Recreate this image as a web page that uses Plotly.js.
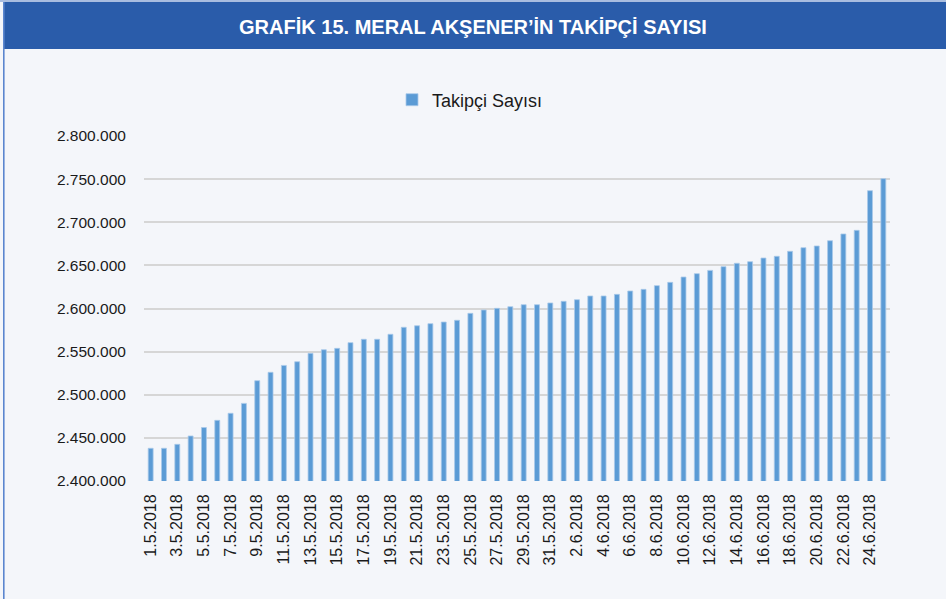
<!DOCTYPE html>
<html>
<head>
<meta charset="utf-8">
<script src="https://cdn.plot.ly/plotly-3.0.1.min.js"></script>
<style>
html,body{margin:0;padding:0;background:#f4f6fa;}
#chart{width:946px;height:599px;}
</style>
</head>
<body>
<div id="chart"></div>
<script>
const dates = [
  "1.5.2018","2.5.2018","3.5.2018","4.5.2018","5.5.2018","6.5.2018","7.5.2018","8.5.2018",
  "9.5.2018","10.5.2018","11.5.2018","12.5.2018","13.5.2018","14.5.2018","15.5.2018","16.5.2018",
  "17.5.2018","18.5.2018","19.5.2018","20.5.2018","21.5.2018","22.5.2018","23.5.2018","24.5.2018",
  "25.5.2018","26.5.2018","27.5.2018","28.5.2018","29.5.2018","30.5.2018","31.5.2018",
  "1.6.2018","2.6.2018","3.6.2018","4.6.2018","5.6.2018","6.6.2018","7.6.2018","8.6.2018",
  "9.6.2018","10.6.2018","11.6.2018","12.6.2018","13.6.2018","14.6.2018","15.6.2018","16.6.2018",
  "17.6.2018","18.6.2018","19.6.2018","20.6.2018","21.6.2018","22.6.2018","23.6.2018","24.6.2018",
  "25.6.2018"
];
const followers = [
  2437900,2437900,2442500,2452200,2462000,2470300,2478500,2490000,
  2516300,2526000,2534000,2538300,2548000,2552200,2553800,2560400,
  2564300,2564300,2570100,2578200,2580000,2582400,2584300,2586300,
  2594400,2598300,2600200,2602100,2604400,2604400,2606400,
  2608300,2610200,2614500,2614500,2616400,2620300,2622200,2626500,
  2630300,2636500,2640400,2644200,2648500,2652400,2654300,2658500,
  2660500,2666300,2670500,2672500,2678600,2686400,2690600,2736600,
  2750500
];
const seriesName = "Takipçi Sayısı";
const chartTitle = "GRAFİK 15. MERAL AKŞENER’İN TAKİPÇİ SAYISI";
const shownTicks = dates.filter((d, i) => i % 2 === 0);

const W = 946, H = 599;
const L = 144, R = 56, T = 136, B = 118;
const pw = W - L - R, ph = H - T - B;
const px = x => (x - L) / pw;
const py = y => 1 + (T - y) / ph;

const trace = {
  type: 'bar',
  x: dates,
  y: followers,
  name: seriesName,
  marker: {color: '#5b9bd5', line: {color: '#a9c9ea', width: 0.8}},
  hoverinfo: 'x+y'
};

const layout = {
  width: W, height: H,
  paper_bgcolor: '#f4f6fa',
  plot_bgcolor: '#f4f6fa',
  separators: ',.',
  margin: {l: L, r: R, t: T, b: B, pad: 0},
  bargap: 0.63,
  font: {family: 'Liberation Sans, Arial, sans-serif', color: '#1a1a1a'},
  title: {
    text: '<b>' + chartTitle + '</b>',
    font: {family: 'Liberation Sans Narrow, Liberation Sans, Arial, sans-serif', size: 20, color: '#ffffff'},
    xref: 'container', x: 0.5, xanchor: 'center',
    yref: 'container', y: 1 - 27 / H, yanchor: 'middle'
  },
  showlegend: true,
  legend: {
    orientation: 'h',
    xref: 'container', x: 470 / W, xanchor: 'center',
    yref: 'container', y: 1 - 100 / H, yanchor: 'middle',
    font: {size: 18, color: '#1a1a1a'},
    bgcolor: 'rgba(0,0,0,0)',
    itemwidth: 30
  },
  xaxis: {
    type: 'category',
    tickmode: 'array',
    tickvals: shownTicks,
    ticktext: shownTicks,
    tickangle: -90,
    tickfont: {size: 16, color: '#1a1a1a'},
    showgrid: false,
    showline: false,
    ticks: 'outside', ticklen: 6, tickcolor: 'rgba(0,0,0,0)',
    fixedrange: true
  },
  yaxis: {
    range: [2400000, 2800000],
    dtick: 50000,
    tick0: 2400000,
    tickformat: ',d',
    tickfont: {size: 15.5, color: '#1a1a1a'},
    gridcolor: '#d6d6d6',
    gridwidth: 1.5,
    zeroline: false,
    showline: false,
    ticks: 'outside', ticklen: 14, tickcolor: 'rgba(0,0,0,0)',
    fixedrange: true
  },
  shapes: [
    {type: 'rect', xref: 'paper', yref: 'paper', layer: 'below',
     x0: px(4), x1: px(W + 2), y0: py(49), y1: py(2),
     fillcolor: '#2a5caa', line: {width: 0}},
    {type: 'line', xref: 'paper', yref: 'paper', layer: 'above',
     x0: px(0), x1: px(W), y0: py(1), y1: py(1),
     line: {color: '#a9bde0', width: 2}},
    {type: 'line', xref: 'paper', yref: 'paper', layer: 'above',
     x0: px(3.8), x1: px(3.8), y0: py(H), y1: py(2),
     line: {color: '#5b86cf', width: 1.6}}
  ]
};

Plotly.newPlot('chart', [trace], layout, {displayModeBar: false, responsive: false});
</script>
</body>
</html>
